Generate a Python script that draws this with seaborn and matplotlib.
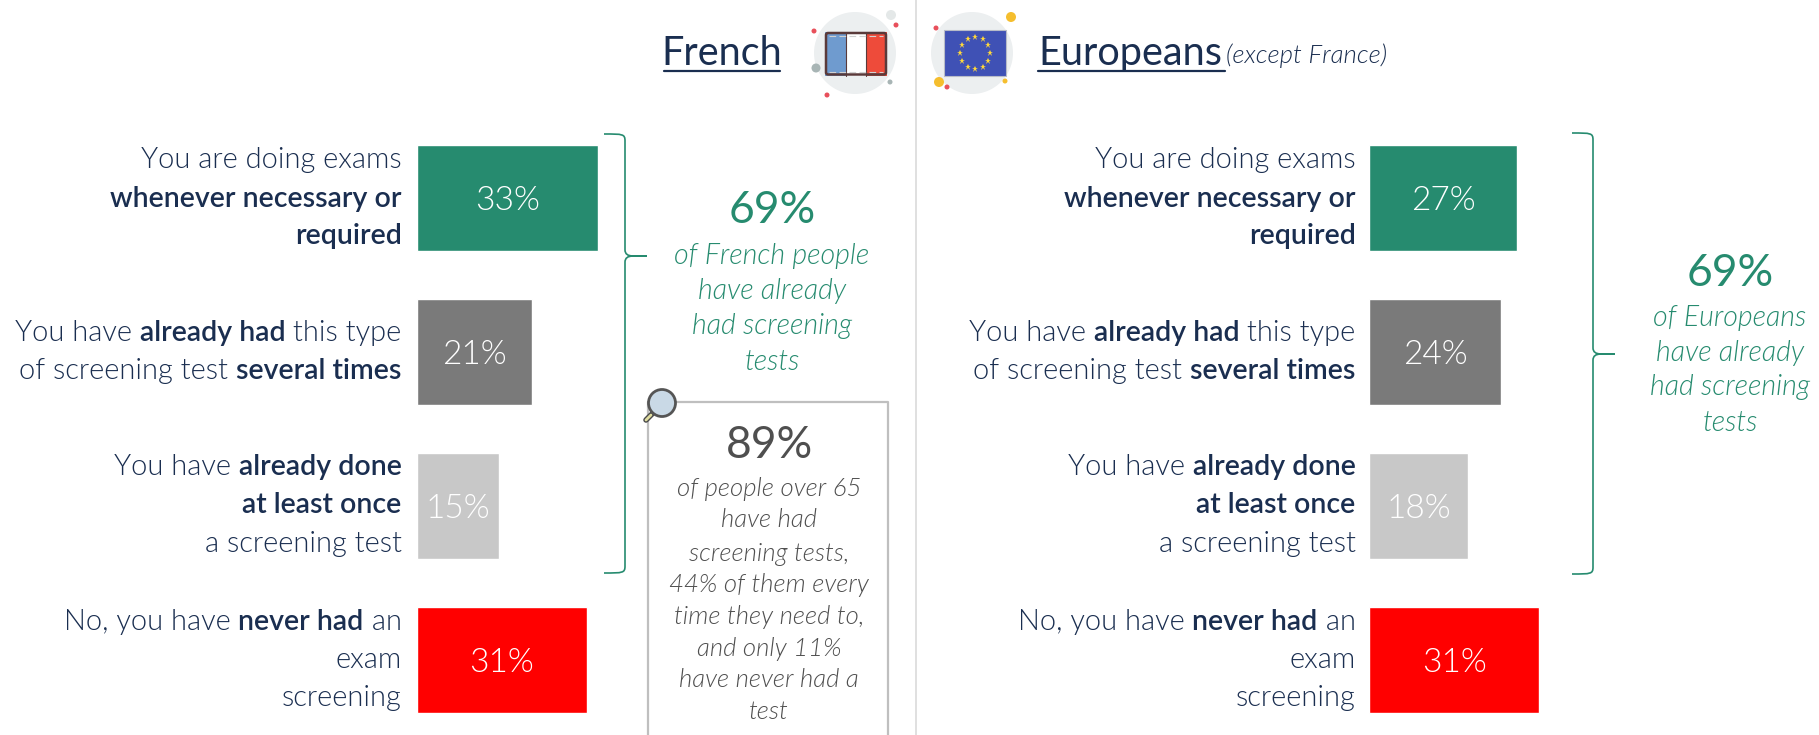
import numpy as np
import pandas as pd
import seaborn as sns
import matplotlib.pyplot as plt
from matplotlib.patches import Circle, Rectangle, FancyBboxPatch, PathPatch
from matplotlib.path import Path

# valores do grafico
french_values = [33, 21, 15, 31]
europe_values = [27, 24, 18, 31]
answer_keys = ['often', 'several', 'once', 'never']
bar_colors = ['#268B6F', '#7A7A7A', '#C8C8C8', '#FF0000']

# rotulos em pedacos (texto, negrito)
answer_labels = [
    [[('You are doing exams', False)], [('whenever necessary or', True)], [('required', True)]],
    [[('You have ', False), ('already had', True), (' this type', False)],
     [('of screening test ', False), ('several times', True)]],
    [[('You have ', False), ('already done', True)], [('at least once', True)], [('a screening test', False)]],
    [[('No, you have ', False), ('never had', True), (' an', False)], [('exam', False)], [('screening', False)]],
]
label_ys = [[160, 199, 236], [333, 371], [467, 505, 544], [622, 660, 698]]

french_note = ['of French people', 'have already', 'had screening', 'tests']
europe_note = ['of Europeans', 'have already', 'had screening', 'tests']
senior_note = ['of people over 65', 'have had', 'screening tests,', '44% of them every',
               'time they need to,', 'and only 11%', 'have never had a', 'test']

NAVY = '#1A2E50'
GREEN = '#268B6F'
GREY = '#4F4F4F'
W, H = 1819, 735

sns.set_theme(style='white')
plt.rcParams['font.family'] = ['Lato', 'DejaVu Sans']

fig = plt.figure(figsize=(W / 100, H / 100), dpi=100, facecolor='white')


def bar_axes(left, values):
    # 5.49 px por ponto percentual
    width = 300
    ax = fig.add_axes([left / W, 0, width / W, (H - 121) / H])
    df = pd.DataFrame({'answer': answer_keys, 'value': values})
    sns.barplot(data=df, y='answer', x='value', hue='answer', palette=bar_colors, saturation=1,
                order=answer_keys, hue_order=answer_keys, width=0.688, legend=False, ax=ax)
    ax.set_xlim(0, width / 5.49)
    ax.set_ylim(3.487, -0.5)
    ax.axis('off')
    for cont in ax.containers:
        labs = ax.bar_label(cont, labels=[f'{v:.0f}%' for v in cont.datavalues], label_type='center',
                            color='white', fontsize=24, fontweight=300)
        for t in labs:
            t.xyann = (0, -1.8)
    return ax


bar_axes(416.8, french_values)
bar_axes(1369, europe_values)

# camada em pixels para textos e enfeites
over = fig.add_axes([0, 0, 1, 1])
over.set_xlim(0, W)
over.set_ylim(H, 0)
over.axis('off')
over.patch.set_alpha(0)
fig.canvas.draw()
renderer = fig.canvas.get_renderer()


def run_line(x_right, y, runs):
    # escreve da direita para a esquerda, medindo cada pedaco
    x = x_right
    for txt, bold in reversed(runs):
        t = over.text(x, y, txt.replace(' ', '\u00a0'), ha='right', va='center', color=NAVY,
                      fontsize=20.5 if bold else 20.9, fontweight=600 if bold else 300)
        x -= t.get_window_extent(renderer).width


for lines, ys in zip(answer_labels, label_ys):
    for runs, y in zip(lines, ys):
        run_line(401.5, y, runs)
        run_line(1355.5, y, runs)

# titulos
over.text(722, 53, 'French', ha='center', va='center', color=NAVY, fontsize=28.5, fontweight=400)
over.plot([664, 780], [70.5, 70.5], color=NAVY, lw=1.6)
over.text(1038, 53, 'Europeans', ha='left', va='center', color=NAVY, fontsize=28.5, fontweight=400)
over.plot([1038, 1225], [70.5, 70.5], color=NAVY, lw=1.6)
over.text(1226, 56, '(except France)', ha='left', va='center', color=NAVY, fontsize=18.6,
          fontstyle='italic', fontweight=300)
over.plot([915.5, 915.5], [0, H], color='#DADADA', lw=1.2)

# notas
over.text(772, 210, '69%', ha='center', va='center', color=GREEN, fontsize=32, fontweight=400)
for txt, y in zip(french_note, [256, 291, 326, 362]):
    over.text(772, y, txt, ha='center', va='center', color=GREEN, fontsize=20.6, fontstyle='italic', fontweight=300)
over.text(1730, 273, '69%', ha='center', va='center', color=GREEN, fontsize=32, fontweight=400)
for txt, y in zip(europe_note, [318, 353, 387, 423]):
    over.text(1730, y, txt, ha='center', va='center', color=GREEN, fontsize=20.6, fontstyle='italic', fontweight=300)

over.plot([648, 648, 888, 888], [H + 5, 402, 402, H + 5], color='#BFBFBF', lw=1.6)
over.text(769, 445, '89%', ha='center', va='center', color=GREY, fontsize=32, fontweight=400)
for txt, y in zip(senior_note, [489, 520, 554, 585, 617, 649, 680, 712]):
    over.text(769, y, txt, ha='center', va='center', color=GREY, fontsize=18.5, fontstyle='italic', fontweight=300)


def brace(x0, xs, xt, y0, ym, y1):
    verts = [(x0, y0), (xs - 2, y0), (xs, y0), (xs, y0 + 7), (xs, ym - 6), (xs, ym), (xs + 8, ym),
             (xt, ym), (xs + 8, ym), (xs, ym), (xs, ym + 6), (xs, y1 - 7), (xs, y1), (xs - 2, y1), (x0, y1)]
    codes = [Path.MOVETO, Path.CURVE4, Path.CURVE4, Path.CURVE4, Path.LINETO, Path.CURVE3, Path.CURVE3,
             Path.LINETO, Path.LINETO, Path.CURVE3, Path.CURVE3, Path.LINETO, Path.CURVE4, Path.CURVE4, Path.CURVE4]
    over.add_patch(PathPatch(Path(verts, codes), fill=False, edgecolor=GREEN, lw=1.2))


brace(604, 625, 647, 134, 256, 573)
brace(1572, 1593, 1615, 133, 354, 574)

# lupa
over.plot([646, 654], [420, 412], color='#4A4A4A', lw=4, solid_capstyle='round')
over.plot([646, 651], [420, 415], color='#E0DDA0', lw=2, solid_capstyle='round')
over.add_patch(Circle((662, 403), 13.5, facecolor='#C9D9E6', edgecolor='#555555', lw=2, zorder=5))

# bandeiras
for cx in (855, 972):
    over.add_patch(Circle((cx, 53), 41, facecolor='#ECEFF0', edgecolor='none'))
for x, w, c in [(825, 21, '#6F9BCF'), (846, 20, 'white'), (866, 21, '#EE4B3A')]:
    over.add_patch(Rectangle((x, 32), w, 43.5, facecolor=c, edgecolor='none', zorder=3))
over.plot([846, 846], [32, 75.5], color='#5A3A3A', lw=0.8, zorder=4)
over.plot([866, 866], [32, 75.5], color='#5A3A3A', lw=0.8, zorder=4)
over.plot([829, 883], [36, 36], color='#D0D0D0', lw=0.8, ls=(0, (6, 3)), zorder=4)
over.plot([829, 883], [71.5, 71.5], color='#D0D0D0', lw=0.8, ls=(0, (6, 3)), zorder=4)
over.add_patch(FancyBboxPatch((826, 33), 60, 41.5, boxstyle='round,pad=0,rounding_size=2', fill=False,
                              edgecolor='#5A3A3A', lw=1.8, zorder=5))
over.add_patch(Rectangle((944, 30), 62, 46, facecolor='#3F51B5', edgecolor='#B8BCC8', lw=0.8, zorder=3))
for a in np.linspace(0, 2 * np.pi, 12, endpoint=False):
    over.plot(975 + 15 * np.sin(a), 53 - 16 * np.cos(a), marker='*', color='#FFD83A', ms=5, mew=0, zorder=4)
# pontinhos em volta
dots = [(814, 31, 2.5, '#E8505B'), (896, 25, 2.5, '#E8505B'), (816, 68, 4.5, '#A8B5B5'), (890, 82, 2.5, '#A8B5B5'),
        (827, 95, 2.5, '#E8505B'), (891, 15, 5, '#E4E8E8'),
        (936, 28, 2.5, '#E8505B'), (1011, 17, 5, '#F5BE2E'), (939, 82, 5, '#F5BE2E'), (947, 87, 2.5, '#E8505B'),
        (1005, 81, 2.5, '#F5BE2E')]
for x, y, r, c in dots:
    over.add_patch(Circle((x, y), r, facecolor=c, edgecolor='none', zorder=2))

fig.savefig('out.png', dpi=100, facecolor='white')
